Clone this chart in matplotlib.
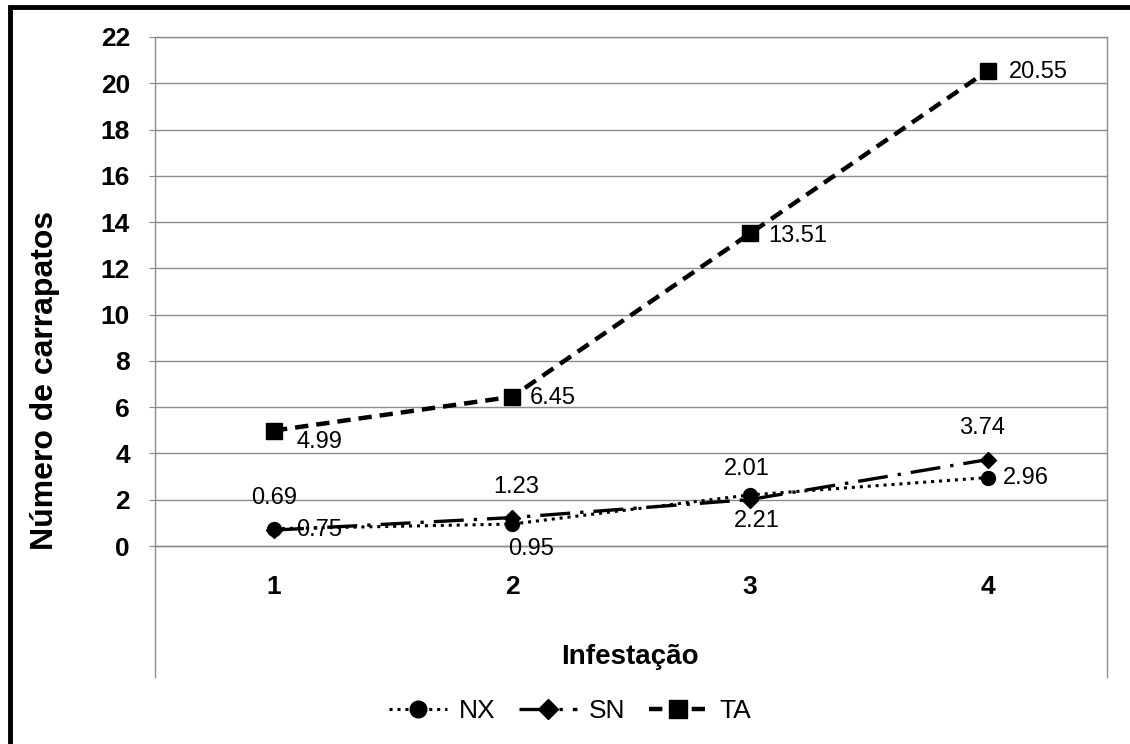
import matplotlib
matplotlib.use('Agg')
import matplotlib.pyplot as plt
from matplotlib.patches import Rectangle

plt.rcParams['font.family'] = ['Liberation Sans', 'DejaVu Sans']

infestacao = [1, 2, 3, 4]
nx = [0.75, 0.95, 2.21, 2.96]
sn = [0.69, 1.23, 2.01, 3.74]
ta = [4.99, 6.45, 13.51, 20.55]

# label offsets in points (dx, dy, ha)
nx_off = [(16, -1, 'left'), (14, -18, 'center'), (5, -19, 'center'), (11, 0, 'left')]
sn_off = [(0, 23, 'center'), (3, 22, 'center'), (-2, 22, 'center'), (-4, 23, 'center')]
ta_off = [(16, -8, 'left'), (13, -1, 'left'), (13, -2, 'left'), (15, -1, 'left')]

fig = plt.figure(figsize=(11.3, 7.44), dpi=100)
ax = fig.add_axes([155/1130, 1 - 677/744, (1107 - 155)/1130, (677 - 37)/744])

grid_col = '#8c8c8c'
ax.set_xlim(0.5, 4.5)
ax.set_ylim(-5.66, 22)
ax.set_yticks(range(0, 23, 2))
ax.set_xticks(infestacao)
ax.yaxis.grid(True, color=grid_col, lw=1)
ax.set_axisbelow(True)
for s in ['left', 'right', 'top', 'bottom']:
    ax.spines[s].set_color(grid_col)
    ax.spines[s].set_linewidth(1)
ax.spines['bottom'].set_position(('data', 0))

ax.tick_params(axis='y', length=4, color=grid_col, pad=14, labelsize=19)
ax.tick_params(axis='x', length=0, pad=21, labelsize=19)
for lab in ax.get_yticklabels() + ax.get_xticklabels():
    lab.set_fontweight('bold')

ax.plot(infestacao, nx, color='black', lw=2.2, ls=(0, (1, 1.6)),
        marker='o', ms=10, label='NX')
ax.plot(infestacao, sn, color='black', lw=2.4, ls=(0, (9, 3, 1, 3)),
        marker='D', ms=8.5, label='SN')
ax.plot(infestacao, ta, color='black', lw=3.2, ls=(0, (3, 1.8)),
        marker='s', ms=11, label='TA')

for vals, offs in [(nx, nx_off), (sn, sn_off), (ta, ta_off)]:
    for x, v, (dx, dy, ha) in zip(infestacao, vals, offs):
        ax.annotate('%.2f' % v, (x, v), xytext=(dx, dy), textcoords='offset points',
                    ha=ha, va='center', fontsize=17)

fig.text(45/1130, 1 - 380/744, 'Número de carrapatos', rotation=90,
         ha='center', va='center', fontsize=23, fontweight='bold')
fig.text(630/1130, 1 - 657/744, 'Infestação', ha='center', va='center',
         fontsize=20, fontweight='bold')

fig.legend(loc='center', bbox_to_anchor=(570/1130, 1 - 711/744), ncol=3,
           frameon=False, fontsize=19, handlelength=2.2, columnspacing=0.9,
           handletextpad=0.45, borderpad=0, markerscale=1.2)

# outer chart border
fig.patches.append(Rectangle((10/1130, -0.1), 1.2, 1 - 7/744 + 0.1,
                             transform=fig.transFigure, fill=False,
                             ec='black', lw=3.5))

fig.savefig('out.png', dpi=100)
